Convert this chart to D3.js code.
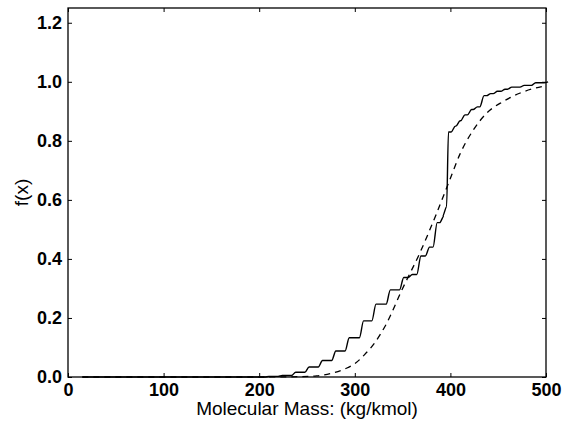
<!DOCTYPE html>
<html>
<head>
<meta charset="utf-8">
<script src="https://cdn.jsdelivr.net/npm/d3@7"></script>
<style>
  body { margin: 0; background: #fff; }
  text { font-family: "Liberation Sans", Arial, sans-serif; fill: #000; }
</style>
</head>
<body>
<div id="chart"></div>
<script>
// empirical CDF: step positions (kg/kmol) and level reached after each step
var stepMass  = [15, 208, 222, 236, 250, 264, 278, 292, 307, 320, 335, 349, 358, 367, 376, 384, 391, 394, 397, 403, 408, 413, 420, 426, 433, 440, 447, 455, 462, 475, 487, 500]
var stepLevel = [0.0, 0.002, 0.005, 0.016, 0.034, 0.056, 0.088, 0.133, 0.19, 0.247, 0.295, 0.337, 0.347, 0.41, 0.44, 0.523, 0.545, 0.577, 0.83, 0.85, 0.868, 0.888, 0.906, 0.915, 0.953, 0.96, 0.968, 0.975, 0.982, 0.988, 0.997, 1.0]
// fitted continuous CDF (dashed)
var fitMass  = [15, 200, 240, 260, 275, 290, 300, 310, 320, 333, 350, 368, 385, 399, 410, 424, 438, 455, 473, 500]
var fitLevel = [0, 0, 0.001, 0.004, 0.012, 0.028, 0.045, 0.075, 0.112, 0.18, 0.30, 0.42, 0.55, 0.665, 0.755, 0.837, 0.894, 0.933, 0.962, 0.987]
var xTicks = [0, 100, 200, 300, 400, 500]
var yTicks = [0.0, 0.2, 0.4, 0.6, 0.8, 1.0, 1.2]

var width = 568, height = 426
var margin = {top: 8, right: 22, bottom: 49, left: 68}
var boundedWidth = width - margin.left - margin.right
var boundedHeight = height - margin.top - margin.bottom

var svg = d3.select("#chart").append("svg")
  .attr("width", width)
  .attr("height", height)

var bounds = svg.append("g")
  .attr("transform", `translate(${margin.left},${margin.top})`)

var xScale = d3.scaleLinear().domain([0, 500]).range([0, boundedWidth])
var yScale = d3.scaleLinear().domain([0, 1.25]).range([boundedHeight, 0])

// smoothed step path: each step rises over a few units
var stepPoints = []
stepMass.forEach((m, i) => {
  if (i == 0) { stepPoints.push([m, stepLevel[0]]); return }
  var half = (stepLevel[i] - stepLevel[i - 1]) > 0.1 ? 1 : 2.2
  stepPoints.push([m - half, stepLevel[i - 1]])
  stepPoints.push([m + half, stepLevel[i]])
})
var fitPoints = fitMass.map((m, i) => [m, fitLevel[i]])

var line = d3.line()
  .x(d => xScale(d[0]))
  .y(d => yScale(d[1]))
  .curve(d3.curveMonotoneX)

bounds.append("path")
  .datum(fitPoints)
  .attr("fill", "none")
  .attr("stroke", "#000")
  .attr("stroke-width", 1.3)
  .attr("stroke-dasharray", "6,5")
  .attr("d", line)

bounds.append("path")
  .datum(stepPoints)
  .attr("fill", "none")
  .attr("stroke", "#000")
  .attr("stroke-width", 1.4)
  .attr("d", line)

// axes with inward ticks on all sides
var xAxis = d3.axisBottom(xScale).tickValues(xTicks).tickSize(-4).tickPadding(6).tickFormat(d3.format("d"))
var yAxis = d3.axisLeft(yScale).tickValues(yTicks).tickSize(-4).tickPadding(6).tickFormat(d3.format(".1f"))
var xTop = d3.axisTop(xScale).tickValues(xTicks).tickSize(-4).tickFormat("")
var yRight = d3.axisRight(yScale).tickValues(yTicks).tickSize(-4).tickFormat("")

function styleAxis(g) {
  g.select(".domain").remove()
  g.selectAll(".tick line").attr("stroke", "#000").attr("stroke-width", 1)
  g.selectAll(".tick text")
    .attr("font-size", 18)
    .attr("font-weight", "bold")
    .attr("font-family", "'Liberation Sans', Arial, sans-serif")
}

bounds.append("g").attr("transform", `translate(0,${boundedHeight})`).call(xAxis).call(styleAxis)
bounds.append("g").call(yAxis).call(styleAxis)
bounds.append("g").call(xTop).call(styleAxis)
bounds.append("g").attr("transform", `translate(${boundedWidth},0)`).call(yRight).call(styleAxis)

bounds.append("rect")
  .attr("width", boundedWidth)
  .attr("height", boundedHeight)
  .attr("fill", "none")
  .attr("stroke", "#000")
  .attr("stroke-width", 1.3)

svg.append("text")
  .attr("x", margin.left + boundedWidth / 2)
  .attr("y", 415)
  .attr("text-anchor", "middle")
  .attr("font-size", 19)
  .text("Molecular Mass: (kg/kmol)")

svg.append("text")
  .attr("transform", `translate(28,${margin.top + boundedHeight / 2}) rotate(-90)`)
  .attr("text-anchor", "middle")
  .attr("font-size", 19)
  .text("f(x)")
</script>
</body>
</html>
